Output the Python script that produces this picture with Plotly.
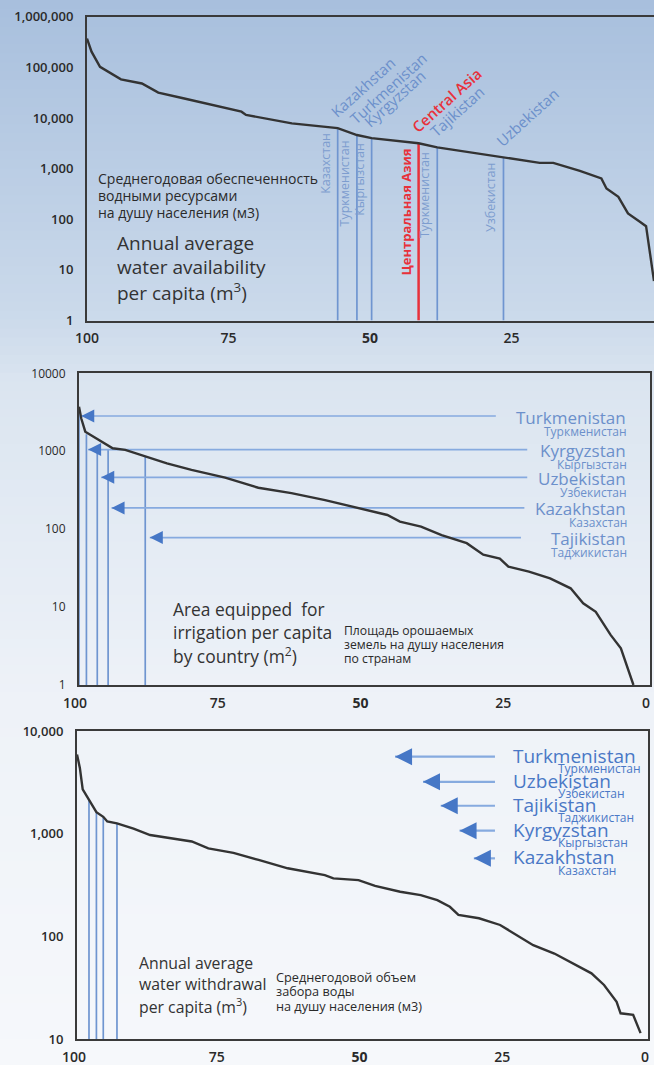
import numpy as np
import plotly.graph_objects as go

W, H = 654, 1065

# ---------------- Panel 1: annual average water availability per capita ----------------
avail_pct = [100, 99.2, 97.7, 94.0, 90.3, 87.4, 83.0, 77.8, 72.7, 71.9, 63.8, 55.7, 52.3, 49.7,
             41.4, 38.1, 32.2, 26.4, 20.0, 17.6, 12.9, 9.1, 8.2, 6.1, 4.4, 2.3, 1.2, 0.5, -0.2]
avail_val = [370000, 204000, 102000, 58000, 48000, 31600, 24500, 18300, 13300, 11500, 7800, 6300,
             4600, 4000, 3160, 2630, 2100, 1660, 1300, 1300, 900, 640, 405, 277, 130, 89, 73, 21, 6]

p1_en = ["Kazakhstan", "Turkmenistan", "Kyrgyzstan", "Central Asia", "Tajikistan", "Uzbekistan"]
p1_ru = ["Казахстан", "Туркменистан", "Кыргызстан", "Центральная Азия", "Туркменистан", "Узбекистан"]
p1_pct = [55.7, 52.3, 49.7, 41.4, 38.1, 26.4]
p1_val = [6300, 4600, 4000, 3160, 2630, 1660]

p1_yticks = [1, 10, 100, 1000, 10000, 100000, 1000000]
p1_ytext = ["1", "10", "100", "1,000", "10,000", "100,000", "1,000,000"]

# ---------------- Panel 2: area equipped for irrigation per capita ----------------
irr_pct = [100, 99.6, 98.9, 96.3, 94.1, 91.9, 88.3, 84.6, 80.3, 74.4, 68.6, 62.8, 56.9, 51.1, 46.0,
           43.8, 40.1, 36.5, 32.1, 29.2, 26.3, 24.8, 21.2, 17.5, 13.9, 11.7, 9.5, 6.9, 5.1, 2.9]
irr_val = [3720, 2630, 1780, 1380, 1090, 1040, 850, 700, 575, 458, 340, 290, 236, 185, 152,
           125, 108, 84, 66, 47, 42, 33, 28.5, 23.4, 17.4, 11.2, 8.7, 4.4, 2.95, 1]

p2_en = ["Turkmenistan", "Kyrgyzstan", "Uzbekistan", "Kazakhstan", "Tajikistan"]
p2_ru = ["Туркменистан", "Кыргызстан", "Узбекистан", "Казахстан", "Таджикистан"]
p2_line_pct = [100.0, 98.7, 96.8, 94.9, 88.4]
p2_line_val = [3700, 1650, 1150, 1050, 850]
p2_arrow_val = [2830, 1050, 462, 187, 78]
p2_tip_pct = [99.6, 98.4, 96.1, 94.3, 87.6]
p2_tail_pct = [27.0, 21.5, 21.5, 22.0, 22.6]

p2_yticks = [1, 10, 100, 1000, 10000]
p2_ytext = ["1", "10", "100", "1000", "10000"]

# ---------------- Panel 3: annual average water withdrawal per capita ----------------
wd_pct = [100, 99.5, 99.0, 97.8, 96.6, 95.4, 94.7, 93.0, 90.1, 87.2, 82.8, 79.9, 77.0, 72.6, 68.2,
          63.1, 56.6, 55.1, 50.7, 47.8, 43.4, 39.8, 36.9, 34.7, 33.2, 29.6, 25.9, 23.0, 20.1, 16.4,
          13.5, 9.9, 7.7, 5.5, 4.8, 2.6, 1.3]
wd_val = [5900, 4370, 2700, 2100, 1620, 1460, 1315, 1260, 1120, 970, 890, 840, 720, 650, 555,
          460, 395, 367, 353, 310, 272, 252, 225, 194, 162, 150, 129, 103, 82, 68,
          56, 43.6, 33.6, 23, 17.8, 17.2, 11.4]

p3_line_pct = [97.9, 96.6, 95.4, 93.0]
p3_line_val = [2100, 1620, 1460, 1260]
p3_en = ["Turkmenistan", "Uzbekistan", "Tajikistan", "Kyrgyzstan", "Kazakhstan"]
p3_ru = ["Туркменистан", "Узбекистан", "Таджикистан", "Кыргызстан", "Казахстан"]
p3_arrow_val = [5620, 3200, 1870, 1070, 575]
p3_tip_pct = [44.3, 39.4, 36.3, 33.0, 30.5]
p3_tail_pct = [26.8, 26.8, 26.8, 26.8, 26.8]

p3_yticks = [10, 100, 1000, 10000]
p3_ytext = ["10", "100", "1,000", "10,000"]

x_ticks = [100, 75, 50, 25, 0]
x_text = ["100", "75", "<b>50</b>", "25", "0"]

# ---------------- styling ----------------
CURVE = "#333333"
AXIS = "#3a3a3a"
BLUE_LINE = "#6f95d0"
BLUE_TXT = "#6c90cb"
BLUE_RU = "#7d9dcf"
RED = "#e8313b"
ARROW_LINE = "#86aadf"
ARROW_HEAD = "#4677c6"
TXT = "#2a2a2a"

fig = go.Figure()


def vlines(pcts, vals, base, color, width, xa, ya):
    xs, ys = [], []
    for p, v in zip(pcts, vals):
        xs += [p, p, None]
        ys += [base, v, None]
    fig.add_trace(go.Scatter(x=xs, y=ys, mode="lines", line=dict(color=color, width=width),
                             xaxis=xa, yaxis=ya, hoverinfo="skip", showlegend=False))


# Panel 1
blue_idx = [i for i in range(len(p1_en)) if p1_en[i] != "Central Asia"]
red_idx = [i for i in range(len(p1_en)) if p1_en[i] == "Central Asia"]
vlines([p1_pct[i] for i in blue_idx], [p1_val[i] for i in blue_idx], 1, BLUE_LINE, 1.7, "x", "y")
vlines([p1_pct[i] for i in red_idx], [p1_val[i] for i in red_idx], 1, RED, 2.5, "x", "y")
fig.add_trace(go.Scatter(x=avail_pct, y=avail_val, mode="lines", line=dict(color=CURVE, width=2.4),
                         xaxis="x", yaxis="y", showlegend=False))

# Panel 2
vlines(p2_line_pct, p2_line_val, 1, BLUE_LINE, 1.7, "x2", "y2")
for tip, tail, v in zip(p2_tip_pct, p2_tail_pct, p2_arrow_val):
    fig.add_trace(go.Scatter(x=[tip, tail], y=[v, v], mode="lines",
                             line=dict(color=ARROW_LINE, width=1.7),
                             xaxis="x2", yaxis="y2", showlegend=False))
fig.add_trace(go.Scatter(x=irr_pct, y=irr_val, mode="lines", line=dict(color=CURVE, width=2.4),
                         xaxis="x2", yaxis="y2", showlegend=False))
fig.add_trace(go.Scatter(x=p2_tip_pct, y=p2_arrow_val, mode="markers",
                         marker=dict(symbol="arrow-left", size=13, color=ARROW_HEAD, line=dict(width=0)),
                         xaxis="x2", yaxis="y2", showlegend=False))

# Panel 3
vlines(p3_line_pct, p3_line_val, 10, BLUE_LINE, 1.7, "x3", "y3")
for tip, tail, v in zip(p3_tip_pct, p3_tail_pct, p3_arrow_val):
    fig.add_trace(go.Scatter(x=[tip, tail], y=[v, v], mode="lines",
                             line=dict(color=ARROW_LINE, width=2.2),
                             xaxis="x3", yaxis="y3", showlegend=False))
fig.add_trace(go.Scatter(x=wd_pct, y=wd_val, mode="lines", line=dict(color=CURVE, width=2.4),
                         xaxis="x3", yaxis="y3", showlegend=False))
fig.add_trace(go.Scatter(x=p3_tip_pct, y=p3_arrow_val, mode="markers",
                         marker=dict(symbol="arrow-left", size=17, color=ARROW_HEAD, line=dict(width=0)),
                         xaxis="x3", yaxis="y3", showlegend=False))

# ---------------- annotations ----------------
ann = []
for en, ru, p, v in zip(p1_en, p1_ru, p1_pct, p1_val):
    red = en == "Central Asia"
    col_en = RED if red else BLUE_TXT
    col_ru = RED if red else BLUE_RU
    ann.append(dict(x=p, y=np.log10(v), xref="x", yref="y", text=en, textangle=-42,
                    xanchor="left", yanchor="bottom", xshift=-14, yshift=4, showarrow=False,
                    font=dict(size=15, color=col_en, family="Open Sans",
                              weight=600 if red else 400)))
    ann.append(dict(x=p, y=np.log10(v), xref="x", yref="y", text=ru, textangle=-90,
                    xanchor="right", yanchor="top", xshift=-2, yshift=-3, showarrow=False,
                    font=dict(size=13 if red else 12.5, color=col_ru, family="Open Sans",
                              weight=700 if red else 400)))

for en, ru, v in zip(p2_en, p2_ru, p2_arrow_val):
    ann.append(dict(x=628 / W, y=np.log10(v), xref="paper", yref="y2", text=en,
                    xanchor="right", yanchor="middle", yshift=-1, showarrow=False,
                    font=dict(size=17, color=BLUE_TXT, family="Open Sans")))
    ann.append(dict(x=629 / W, y=np.log10(v), xref="paper", yref="y2", text=ru,
                    xanchor="right", yanchor="middle", yshift=-15, showarrow=False,
                    font=dict(size=12, color=BLUE_TXT, family="Open Sans")))

for en, ru, v in zip(p3_en, p3_ru, p3_arrow_val):
    ann.append(dict(x=511 / W, y=np.log10(v), xref="paper", yref="y3", text=en,
                    xanchor="left", yanchor="middle", yshift=1, showarrow=False,
                    font=dict(size=19, color="#4a78c6", family="Open Sans", weight=500)))
    ann.append(dict(x=556 / W, y=np.log10(v), xref="paper", yref="y3", text=ru,
                    xanchor="left", yanchor="middle", yshift=-12, showarrow=False,
                    font=dict(size=12, color="#4a78c6", family="Open Sans")))


def block(lines, px, centers, size, color=TXT, family="Open Sans"):
    for text, cy in zip(lines, centers):
        ann.append(dict(x=px / W, y=1 - cy / H, xref="paper", yref="paper", text=text,
                        xanchor="left", yanchor="middle", align="left", showarrow=False,
                        font=dict(size=size, family=family, color=color)))


block(["Среднегодовая обеспеченность", "водными ресурсами", "на душу населения (м3)"],
      96, [179, 195.7, 212.3], 14)
block(["Annual average", "water availability", "per capita (m<sup>3</sup>)"],
      115, [243.3, 266.7, 291.7], 19, "#333333")
block(["Area equipped  for", "irrigation per capita", "by country (m<sup>2</sup>)"],
      171, [609, 631.7, 655], 17.4, "#333333")
block(["Площадь орошаемых", "земель на душу населения", "по странам"],
      342, [630, 644, 658], 12.2)
block(["Annual average", "water withdrawal", "per capita (m<sup>3</sup>)"],
      137, [963, 984, 1005.7], 15.8, "#333333")
block(["Среднегодовой объем", "забора воды", "на душу населения (м3)"],
      274, [976.7, 991, 1005.7], 12.7)

# ---------------- background gradient ----------------
stops = [(0.0, (167, 191, 221)), (0.30, (204, 218, 235)), (0.36, (219, 229, 240)),
         (0.66, (238, 242, 248)), (1.0, (246, 248, 251))]


def grad(t):
    for (t0, c0), (t1, c1) in zip(stops[:-1], stops[1:]):
        if t0 <= t <= t1:
            f = (t - t0) / (t1 - t0)
            return tuple(int(round(a + (b - a) * f)) for a, b in zip(c0, c1))
    return stops[-1][1]


shapes = []
N = 120
for i in range(N):
    t = (i + 0.5) / N
    c = grad(t)
    shapes.append(dict(type="rect", xref="paper", yref="paper", x0=0, x1=1,
                       y0=1 - (i + 1) / N - 0.001, y1=1 - i / N, layer="below",
                       line=dict(width=0), fillcolor="rgb(%d,%d,%d)" % c))

# ---------------- axes ----------------
tickfont_x = dict(size=14, color=TXT, family="Open Sans", weight=600)


def xax(domain, rng, anchor, shift, mirror=True):
    return dict(domain=domain, range=rng, anchor=anchor, tickvals=x_ticks, ticktext=x_text,
                showline=True, linecolor=AXIS, linewidth=2, mirror=mirror, showgrid=False,
                zeroline=False, ticks="", tickfont=tickfont_x, ticklabelshift=shift,
                ticklabelstandoff=4, fixedrange=True, automargin=False)


def yax(domain, rng, anchor, vals, text, size, weight, mirror):
    return dict(domain=domain, range=rng, anchor=anchor, type="log", tickvals=vals, ticktext=text,
                showline=True, linecolor=AXIS, linewidth=2, mirror=mirror, showgrid=False,
                zeroline=False, ticks="",
                tickfont=dict(size=size, color=TXT, family="Open Sans", weight=weight),
                ticklabelstandoff=9, fixedrange=True, automargin=False)


fig.update_layout(
    width=W, height=H, margin=dict(l=0, r=0, t=0, b=0, pad=0), autosize=False,
    paper_bgcolor="rgb(246,248,251)", plot_bgcolor="rgba(0,0,0,0)",
    showlegend=False, shapes=shapes, annotations=ann,
    xaxis=xax([87 / W, 1.0], [100, -0.2], "y", 0, mirror=True),
    yaxis=yax([1 - 320.5 / H, 1 - 16.7 / H], [0, 6], "x", p1_yticks, p1_ytext, 13, 600, False),
    xaxis2=xax([79 / W, 650 / W], [100, 0], "y2", 4),
    yaxis2=yax([1 - 685 / H, 1 - 373.3 / H], [0, 4], "x2", p2_yticks, p2_ytext, 12, 500, True),
    xaxis3=xax([77 / W, 648 / W], [100, 0], "y3", 3),
    yaxis3=yax([1 - 1039 / H, 1 - 731 / H], [1, 4], "x3", p3_yticks, p3_ytext, 13, 600, True),
)

post = ("document.documentElement.style.margin='0';document.documentElement.style.padding='0';"
        "document.body.style.margin='0';document.body.style.padding='0';"
        "document.documentElement.style.overflow='hidden';document.body.style.overflow='hidden';")
fig.write_html("out.html", config={"displayModeBar": False, "responsive": False}, post_script=post)
